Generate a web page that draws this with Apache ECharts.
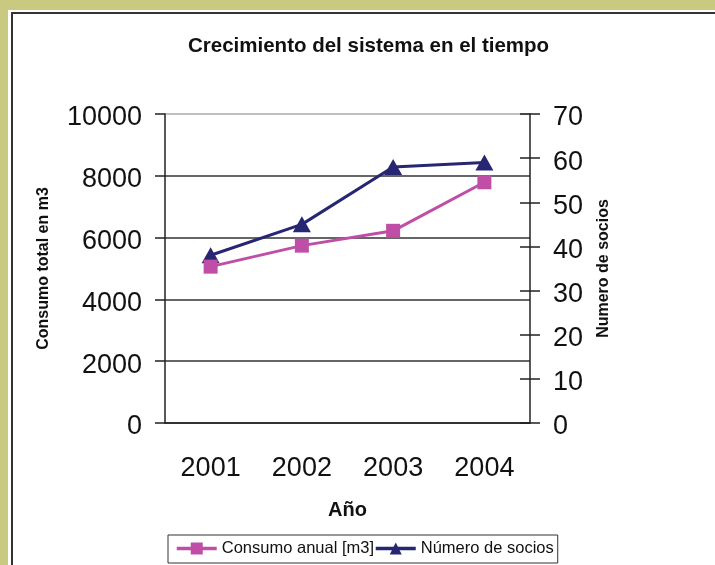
<!DOCTYPE html>
<html>
<head>
<meta charset="utf-8">
<script src="https://cdn.jsdelivr.net/npm/echarts@6/dist/echarts.min.js"></script>
<style>
html,body{margin:0;padding:0;}
#chart{width:715px;height:565px;}
</style>
</head>
<body>
<div id="chart"></div>
<script>
//datos
var anios = ['2001', '2002', '2003', '2004'];
var consumoAnual = [5060, 5740, 6220, 7790];
var numeroSocios = [38, 45, 58, 59];
var nombres = ['Consumo anual [m3]', 'Número de socios'];

var fuente = '"Liberation Sans", Arial, sans-serif';
var e = echarts.init(document.getElementById('chart'));
var option = {
    backgroundColor: '#c9c97f',
    animation: false,
    textStyle: {fontFamily: fuente},
    //marco blanco con borde oscuro
    graphic: [
        {type: 'rect', shape: {x: 8, y: 10, width: 707, height: 555}, style: {fill: '#fff'}, z: -10},
        {type: 'polyline', shape: {points: [[12, 565], [12, 13], [715, 13]]}, style: {stroke: '#333', lineWidth: 2, fill: null}, z: -9}
    ],
    title: {
        text: 'Crecimiento del sistema en el tiempo',
        left: 183, top: 31,
        textStyle: {fontSize: 20.5, fontWeight: 'bold', color: '#111', fontFamily: fuente}
    },
    legend: {
        data: nombres,
        left: 168, top: 535,
        orient: 'horizontal',
        padding: [5, 4, 6, 7],
        itemGap: 0,
        itemWidth: 40, itemHeight: 15,
        borderColor: '#333', borderWidth: 1,
        lineStyle: {width: 3.5},
        textStyle: {fontSize: 16.5, color: '#111', fontFamily: fuente}
    },
    grid: {left: 165, right: 185, top: 114, bottom: 142},
    xAxis: {
        type: 'category',
        data: anios,
        name: 'Año',
        nameLocation: 'middle',
        nameGap: 77,
        nameTextStyle: {fontSize: 20, fontWeight: 'bold', color: '#111'},
        axisLine: {lineStyle: {color: '#222', width: 1.5}},
        axisTick: {length: 10, lineStyle: {color: '#222', width: 1.5}},
        axisLabel: {fontSize: 27, color: '#111', margin: 32}
    },
    yAxis: [
        {
            type: 'value',
            min: 0, max: 10000, interval: 2000,
            name: 'Consumo total en m3',
            nameLocation: 'middle',
            nameGap: 113,
            nameTextStyle: {fontSize: 16, fontWeight: 'bold', color: '#111'},
            axisLine: {show: true, lineStyle: {color: '#222', width: 1.5}},
            axisTick: {show: true, length: 10, lineStyle: {color: '#222', width: 1.5}},
            axisLabel: {
                fontSize: 27, color: '#111', margin: 23,
                verticalAlign: 'top', lineHeight: 8,
                formatter: function (v) { return String(v); }
            },
            splitLine: {show: true, lineStyle: {color: ['#333', '#333', '#333', '#333', '#333', '#aaa'], width: 1.5}}
        },
        {
            type: 'value',
            position: 'right',
            min: 0, max: 70, interval: 10,
            name: 'Numero de socios',
            nameLocation: 'middle',
            nameGap: 66,
            nameTextStyle: {fontSize: 16, fontWeight: 'bold', color: '#111'},
            axisLine: {show: true, lineStyle: {color: '#222', width: 1.5}},
            axisTick: {show: true, length: 10, lineStyle: {color: '#222', width: 1.5}},
            axisLabel: {fontSize: 27, color: '#111', margin: 23, verticalAlign: 'top', lineHeight: 8},
            splitLine: {show: false}
        },
        {
            //marcas hacia adentro del eje derecho
            type: 'value',
            position: 'right',
            min: 0, max: 70, interval: 10,
            axisLine: {show: false},
            axisTick: {show: true, inside: true, length: 10, lineStyle: {color: '#222', width: 1.5}},
            axisLabel: {show: false},
            splitLine: {show: false}
        }
    ],
    series: [
        {
            name: nombres[0],
            type: 'line',
            yAxisIndex: 0,
            data: consumoAnual,
            symbol: 'rect',
            symbolSize: 14,
            z: 5,
            itemStyle: {color: '#bf4fa6'},
            lineStyle: {color: '#bf4fa6', width: 3}
        },
        {
            name: nombres[1],
            type: 'line',
            yAxisIndex: 1,
            data: numeroSocios,
            symbol: 'triangle',
            symbolSize: [18, 16],
            z: 3,
            itemStyle: {color: '#262673'},
            lineStyle: {color: '#262673', width: 3}
        }
    ]
};
e.setOption(option);
</script>
</body>
</html>
